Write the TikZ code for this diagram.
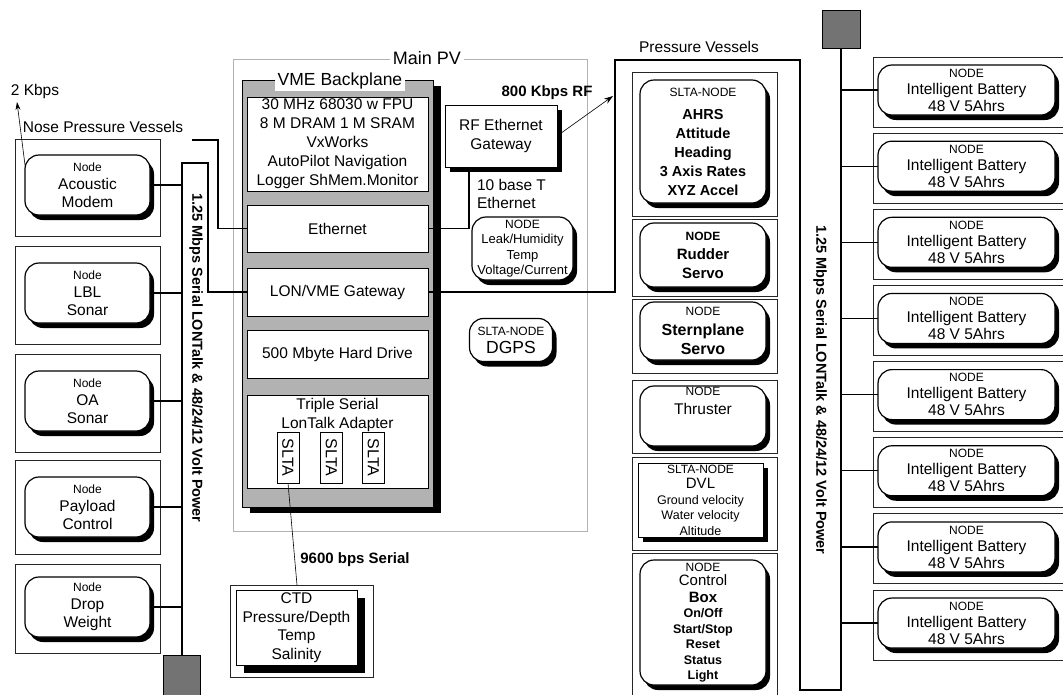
\documentclass[tikz,border=0pt]{standalone}
\usepackage{fontspec}
\setmainfont{Liberation Sans}
\usetikzlibrary{shadows,arrows.meta,calc}
\newcommand{\myfs}[2]{\fontsize{#1}{#2}\selectfont}
\begin{document}
\begin{tikzpicture}[x=1pt,y=-1pt,
  every node/.style={inner sep=0pt, outer sep=0pt},
  box/.style={draw=black!85, line width=0.9pt, minimum width=145pt},
  rnd/.style={draw, fill=white, line width=1.2pt, rounded corners=14pt, align=center,
     drop shadow={shadow xshift=4pt, shadow yshift=-5pt, opacity=1, fill=black}},
  lnode/.style={rnd, minimum width=125pt, minimum height=60pt, font=\myfs{15.5}{18}},
  cnode/.style={rnd, minimum width=126pt},
  sq/.style={draw, fill=black!55, line width=0.6pt},
  wbox/.style={draw, fill=white, line width=1pt, minimum width=181pt, align=center, font=\myfs{15.5}{19}},
  ln/.style={line width=1.2pt},
  thin/.style={line width=0.6pt},
  lbl/.style={font=\myfs{15.5}{18}},
  blbl/.style={font=\bfseries\myfs{15}{17}},
  buslbl/.style={font=\bfseries\myfs{14.5}{17}, rotate=-90},
]
\useasboundingbox (0,0) rectangle (1063,694);

% ---------------- left column ----------------
\node[box, minimum height=97pt] (bAM) at (87.5,187.5) {};
\node[box, minimum height=98pt] (bLBL) at (87.5,295) {};
\node[box, minimum height=98pt] (bOA) at (87.5,403) {};
\node[box, minimum height=94pt] (bPC) at (87.5,507) {};
\node[box, minimum height=89pt] (bDW) at (87.5,608.5) {};

\node[lnode] (am) at (87.5,185) {{\myfs{12}{14}Node}\\Acoustic\\Modem};
\node[lnode] (lbl) at (87.5,293) {{\myfs{12}{14}Node}\\LBL\\Sonar};
\node[lnode] (oa) at (87.5,401) {{\myfs{12}{14}Node}\\OA\\Sonar};
\node[lnode] (pc) at (87.5,507) {{\myfs{12}{14}Node}\\Payload\\Control};
\node[lnode] (dw) at (87.5,607) {{\myfs{12}{14}Node}\\Drop\\Weight};

\node[sq, minimum width=37pt, minimum height=45pt, anchor=north] (sqL) at (182,655) {};
\coordinate (bLtop) at (182,163);
\coordinate (nose) at (192,140);

\node[lbl] (kbps) at (35,91) {2 Kbps};
\coordinate (kbtip) at (17,102);
\draw[thin, -{Stealth[length=8pt,width=5pt]}] ($(am.north west)+(0,10)$) -- (kbtip);
\node[lbl] (nosel) at (103,127) {Nose Pressure Vessels};

\node[buslbl] (busLl) at (196,358) {1.25 Mbps Serial LONTalk \& 48/24/12 Volt Power};

% ---------------- main PV ----------------
\node[draw=black!30, line width=0.9pt, minimum width=354pt, minimum height=472pt] (mainpv) at (410,295) {};
\node[fill=white, inner xsep=3pt, inner ysep=1pt, font=\myfs{18}{20}] (mpvl) at (427,58) {Main PV};

\node[draw, fill=black!30, line width=1pt, minimum width=191pt, minimum height=427pt,
  drop shadow={shadow xshift=8pt, shadow yshift=-6pt, opacity=1, fill=black}] (vme) at (337.5,293.5) {};
\node[fill=white, inner xsep=3pt, inner ysep=2pt, font=\myfs{17.5}{20}] (vmel) at (340,81) {VME Backplane};

\node[wbox, minimum height=94pt] (cpu) at (337.5,144) {30 MHz 68030 w FPU\\8 M DRAM 1 M SRAM\\VxWorks\\AutoPilot Navigation\\Logger ShMem.Monitor};
\node[wbox, minimum height=47pt] (eth) at (337.5,228.5) {Ethernet};
\node[wbox, minimum height=48pt] (lon) at (337.5,292) {LON/VME Gateway};
\node[wbox, minimum height=48pt] (hdd) at (337.5,354) {500 Mbyte Hard Drive};
\node[wbox, minimum height=93pt] (tsa) at (337.5,441.5) {};
\node[anchor=north, align=center, font=\myfs{15.5}{19}] (tsat) at (337.5,398) {Triple Serial\\LonTalk Adapter};
\node[draw, fill=white, line width=0.9pt, minimum width=51pt, minimum height=22pt, rotate=-90, font=\myfs{16}{18}] (s1) at (288,457.5) {SLTA};
\node[draw, fill=white, line width=0.9pt, minimum width=51pt, minimum height=22pt, rotate=-90, font=\myfs{16}{18}] (s2) at (331.5,457.5) {SLTA};
\node[draw, fill=white, line width=0.9pt, minimum width=51pt, minimum height=22pt, rotate=-90, font=\myfs{16}{18}] (s3) at (373.5,457.5) {SLTA};

\node[draw, fill=white, line width=1pt, minimum width=112pt, minimum height=62pt, align=center, font=\myfs{15.5}{19},
  drop shadow={shadow xshift=5pt, shadow yshift=-5pt, opacity=1, fill=black}] (rf) at (501,136) {RF Ethernet\\Gateway};
\coordinate (rfend) at (613,96);
\draw[thin, -{Stealth[length=9pt,width=6pt]}] (rf.east) -- (rfend);
\node[blbl] (kbrf) at (547,93) {800 Kbps RF};
\draw[ln] (eth.east) -| ($(rf.south west)+(24,0)$);
\node[anchor=west, align=left, font=\myfs{15.5}{18.5}] (tbt) at (477,194) {10 base T\\Ethernet};

\node[rnd, minimum width=101pt, minimum height=63pt, font=\myfs{13}{15.5}] (leak) at (522.5,248.5) {{\myfs{12}{13}NODE}\\Leak/Humidity\\Temp\\Voltage/Current};
\node[rnd, minimum width=83pt, minimum height=43pt, font=\myfs{17.5}{18}] (dgps) at (511,340) {{\myfs{12}{13}SLTA-NODE}\\DGPS};

% CTD
\node[box, minimum width=143pt, minimum height=92pt] (ctdo) at (301.5,631) {};
\node[draw, fill=white, line width=1pt, minimum width=121pt, minimum height=75pt, align=center, font=\myfs{15.5}{18.5},
  drop shadow={shadow xshift=8pt, shadow yshift=-8pt, opacity=1, fill=black}] (ctd) at (296.5,627.5) {CTD\\Pressure/Depth\\Temp\\Salinity};
\draw[thin] (s1.east) -- ($(ctdo.north)+(-4.5,0)$);
\node[blbl] (bps) at (355,560) {9600 bps Serial};

% left bus
\draw[ln] (sqL.north) -- (bLtop) -- ++(26,0) coordinate (bLr) -- (bLr |- lon.west) -- (lon.west);
\draw[ln] (nose) -- ++(26,0) coordinate (nr) -- (nr |- eth.west) -- (eth.west);
\foreach \n in {am,lbl,oa,pc,dw} {\draw[ln] (\n.east) -- (\n.east -| bLtop);}

% ---------------- pressure vessels ----------------
\node[lbl] (pvl) at (699,47) {Pressure Vessels};
\coordinate (pvtl) at (615,60);
\coordinate (pvtr) at (800,60);
\coordinate (pvbr) at (800,690);
\node[sq, minimum width=38pt, minimum height=38pt] (sqR) at (841,29) {};
\coordinate (bRbot) at (841,690);
\draw[ln] (lon.east) -- (lon.east -| pvtl) -- (pvtl) -- (pvtr) -- (pvbr) -- (bRbot) -- (sqR.south);

\node[box, minimum height=144pt] (bA) at (704.5,144) {};
\node[box, minimum height=77pt] (bR) at (704.5,257.5) {};
\node[box, minimum height=74pt] (bS) at (704.5,336) {};
\node[box, minimum height=73pt] (bT) at (704.5,416.5) {};
\node[box, minimum height=93pt] (bD) at (704.5,503.5) {};
\node[box, minimum height=147pt] (bC) at (704.5,626.5) {};

\node[cnode, minimum height=123pt, font=\bfseries\myfs{14.5}{19}] (ahrs) at (703,141.5)
  {{\mdseries\myfs{12}{14}SLTA-NODE}\\[4pt]AHRS\\Attitude\\Heading\\3 Axis Rates\\XYZ Accel};
\node[cnode, minimum height=64pt, font=\bfseries\myfs{15}{19}] (rud) at (703,255) {{\myfs{12}{13}NODE}\\Rudder\\Servo};
\node[cnode, minimum height=58pt, font=\bfseries\myfs{16}{19.5}] (stern) at (703,331) {{\mdseries\myfs{12}{13}NODE}\\Sternplane\\Servo};
\node[cnode, minimum height=60pt] (thr) at (703,416) {};
\node[anchor=north, align=center, font=\myfs{15.5}{19}] (thrt) at ($(thr.north)+(0,1)$) {{\myfs{12}{13}NODE}\\Thruster};
\node[draw, fill=white, line width=1pt, minimum width=125pt, minimum height=74pt, align=center, font=\myfs{12.5}{15.5},
  drop shadow={shadow xshift=5pt, shadow yshift=-5pt, opacity=1, fill=black}] (dvl) at (700.5,500)
  {{\myfs{12}{13}SLTA-NODE}\\{\myfs{15}{16}DVL}\\Ground velocity\\Water velocity\\Altitude};
\node[cnode, minimum height=125pt, font=\bfseries\myfs{12.5}{15.5}] (ctrl) at (703,622.5)
  {{\mdseries\myfs{12}{12}NODE}\\[-1pt]{\mdseries\myfs{15}{17}Control}\\[1pt]{\myfs{15}{17}Box}\\On/Off\\Start/Stop\\Reset\\Status\\Light};

\node[buslbl] (busRl) at (820,390) {1.25 Mbps Serial LONTalk \& 48/24/12 Volt Power};

% ---------------- batteries ----------------
\foreach \i in {0,...,7} {
  \pgfmathsetmacro\t{57+76.15*\i}
  \node[box, minimum width=197pt, minimum height=70pt, anchor=north west] (bb\i) at (873,\t) {};
  \node[rnd, minimum width=177pt, minimum height=50pt, font=\myfs{15.5}{17}] (bat\i) at (966.5,\t+33)
     {{\myfs{12}{12}NODE}\\Intelligent Battery\\48 V 5Ahrs};
  \draw[ln] (bat\i.west) -- (bat\i.west -| sqR.south);
}
\end{tikzpicture}
\end{document}
